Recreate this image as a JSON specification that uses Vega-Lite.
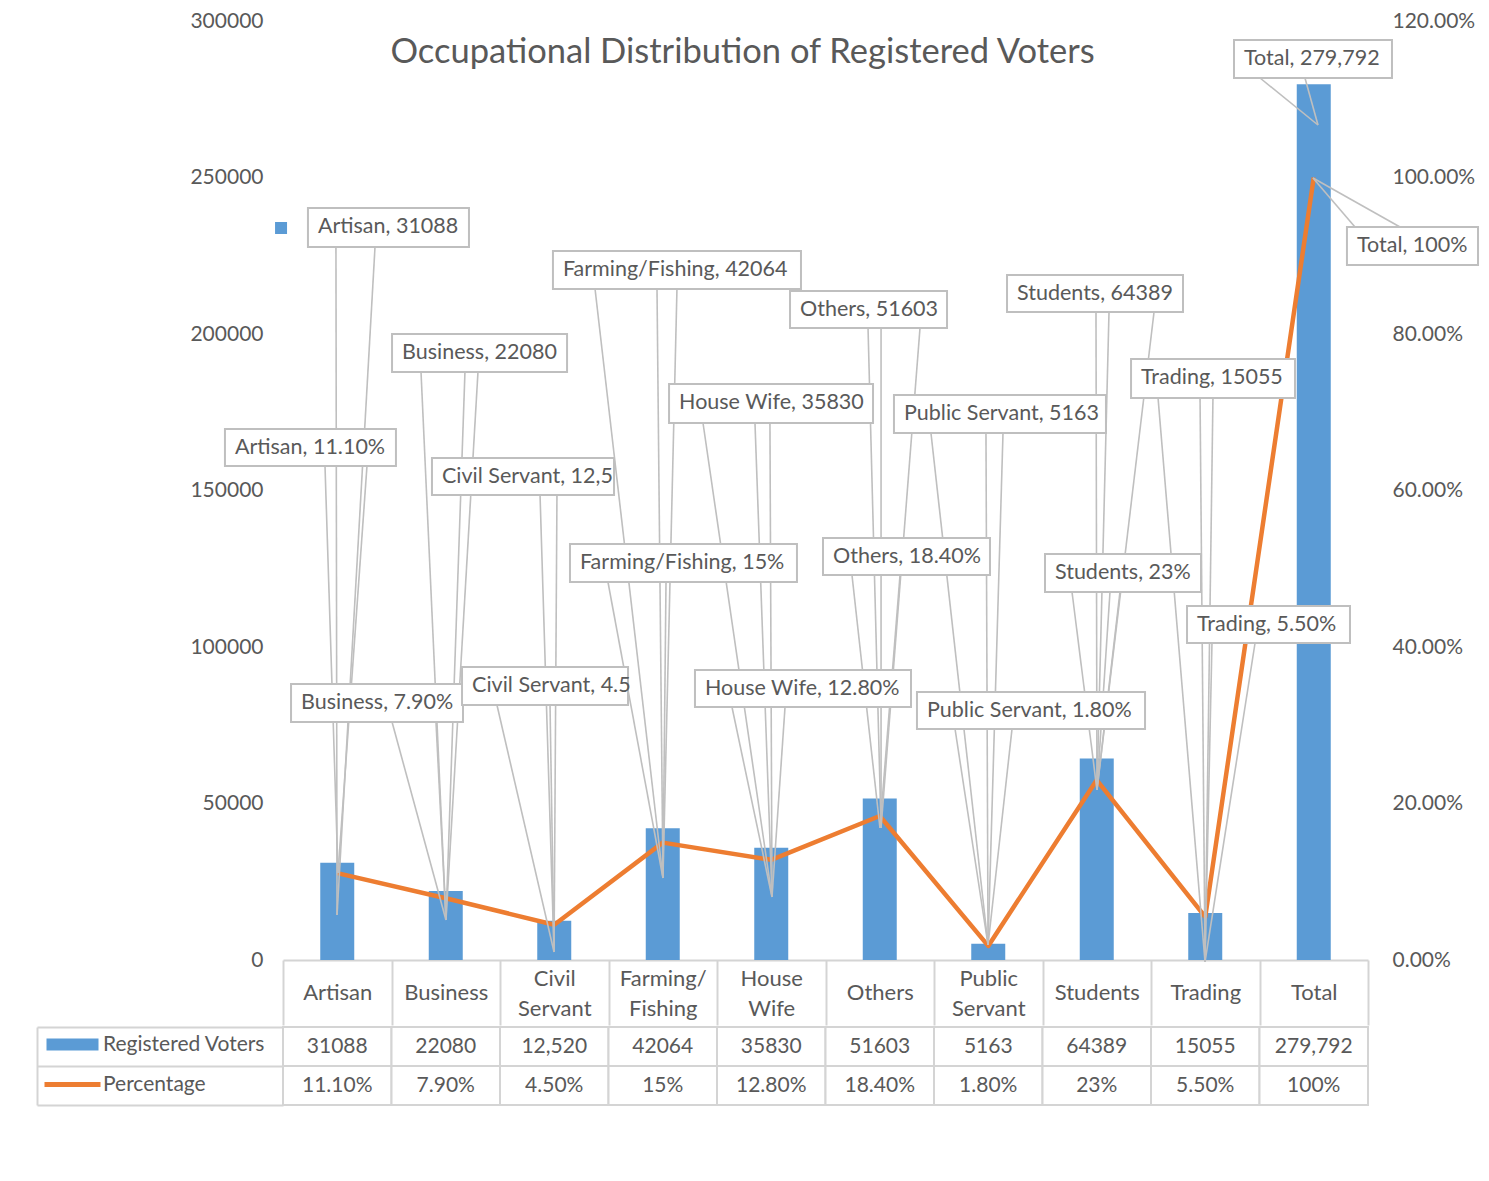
{
  "$schema": "https://vega.github.io/schema/vega-lite/v6.json",
  "background": "white",
  "padding": {"left": 36, "top": 10, "right": 10, "bottom": 10},
  "title": {"text": "Occupational Distribution of Registered Voters", "fontSize": 34.5, "font": "Lato", "fontWeight": "normal", "color": "#595959", "anchor": "middle", "baseline": "middle", "offset": -77, "dx": -15},
  "spacing": 0,
  "datasets": {
    "main": [
      {"Occupation": "Artisan", "Voters": 31088, "Percentage": 0.111},
      {"Occupation": "Business", "Voters": 22080, "Percentage": 0.079},
      {"Occupation": "Civil Servant", "Voters": 12520, "Percentage": 0.045},
      {"Occupation": "Farming/Fishing", "Voters": 42064, "Percentage": 0.15},
      {"Occupation": "House Wife", "Voters": 35830, "Percentage": 0.128},
      {"Occupation": "Others", "Voters": 51603, "Percentage": 0.184},
      {"Occupation": "Public Servant", "Voters": 5163, "Percentage": 0.018},
      {"Occupation": "Students", "Voters": 64389, "Percentage": 0.23},
      {"Occupation": "Trading", "Voters": 15055, "Percentage": 0.055},
      {"Occupation": "Total", "Voters": 279792, "Percentage": 1.0}
    ],
    "table": [
      {"Occupation": "Artisan", "Series": "Registered Voters", "Display": "31088"},
      {"Occupation": "Business", "Series": "Registered Voters", "Display": "22080"},
      {"Occupation": "Civil Servant", "Series": "Registered Voters", "Display": "12,520"},
      {"Occupation": "Farming/Fishing", "Series": "Registered Voters", "Display": "42064"},
      {"Occupation": "House Wife", "Series": "Registered Voters", "Display": "35830"},
      {"Occupation": "Others", "Series": "Registered Voters", "Display": "51603"},
      {"Occupation": "Public Servant", "Series": "Registered Voters", "Display": "5163"},
      {"Occupation": "Students", "Series": "Registered Voters", "Display": "64389"},
      {"Occupation": "Trading", "Series": "Registered Voters", "Display": "15055"},
      {"Occupation": "Total", "Series": "Registered Voters", "Display": "279,792"},
      {"Occupation": "Artisan", "Series": "Percentage", "Display": "11.10%"},
      {"Occupation": "Business", "Series": "Percentage", "Display": "7.90%"},
      {"Occupation": "Civil Servant", "Series": "Percentage", "Display": "4.50%"},
      {"Occupation": "Farming/Fishing", "Series": "Percentage", "Display": "15%"},
      {"Occupation": "House Wife", "Series": "Percentage", "Display": "12.80%"},
      {"Occupation": "Others", "Series": "Percentage", "Display": "18.40%"},
      {"Occupation": "Public Servant", "Series": "Percentage", "Display": "1.80%"},
      {"Occupation": "Students", "Series": "Percentage", "Display": "23%"},
      {"Occupation": "Trading", "Series": "Percentage", "Display": "5.50%"},
      {"Occupation": "Total", "Series": "Percentage", "Display": "100%"}
    ],
    "callouts": [
      {"label": "Artisan, 31088", "x1": 0.230, "x2": 1.714, "yTop": 240256, "yBottom": 227796},
      {"label": "Artisan, 11.10%", "x1": -0.535, "x2": 1.041, "yTop": 169649, "yBottom": 157828},
      {"label": "Business, 22080", "x1": 1.005, "x2": 2.618, "yTop": 200001, "yBottom": 187860},
      {"label": "Business, 7.90%", "x1": 0.074, "x2": 1.659, "yTop": 88179, "yBottom": 76039},
      {"label": "Civil Servant, 12,5", "x1": 1.373, "x2": 3.051, "yTop": 160384, "yBottom": 148563},
      {"label": "Civil Servant, 4.5", "x1": 1.650, "x2": 3.180, "yTop": 93611, "yBottom": 81470},
      {"label": "Farming/Fishing, 42064", "x1": 2.488, "x2": 4.774, "yTop": 226518, "yBottom": 214378},
      {"label": "Farming/Fishing, 15%", "x1": 2.645, "x2": 4.737, "yTop": 132908, "yBottom": 120767},
      {"label": "House Wife, 35830", "x1": 3.558, "x2": 5.438, "yTop": 184026, "yBottom": 171566},
      {"label": "House Wife, 12.80%", "x1": 3.797, "x2": 5.788, "yTop": 92652, "yBottom": 80831},
      {"label": "Others, 51603", "x1": 4.673, "x2": 6.120, "yTop": 213739, "yBottom": 201918},
      {"label": "Others, 18.40%", "x1": 4.977, "x2": 6.516, "yTop": 134825, "yBottom": 123004},
      {"label": "Public Servant, 5163", "x1": 5.631, "x2": 7.585, "yTop": 180512, "yBottom": 168371},
      {"label": "Public Servant, 1.80%", "x1": 5.843, "x2": 7.945, "yTop": 85623, "yBottom": 73802},
      {"label": "Students, 64389", "x1": 6.673, "x2": 8.295, "yTop": 218851, "yBottom": 207030},
      {"label": "Students, 23%", "x1": 7.023, "x2": 8.461, "yTop": 129713, "yBottom": 117572},
      {"label": "Trading, 15055", "x1": 7.816, "x2": 9.327, "yTop": 192013, "yBottom": 179553},
      {"label": "Trading, 5.50%", "x1": 8.332, "x2": 9.834, "yTop": 113100, "yBottom": 101278},
      {"label": "Total, 279,792", "x1": 8.765, "x2": 10.221, "yTop": 293931, "yBottom": 281790},
      {"label": "Total, 100%", "x1": 9.806, "x2": 11.014, "yTop": 234186, "yBottom": 222046}
    ],
    "leaders": [
      {"x": 0.488, "y": 227796, "tipX": 0.498, "tipY": 14377},
      {"x": 0.848, "y": 227796, "tipX": 0.498, "tipY": 14377},
      {"x": 0.387, "y": 157828, "tipX": 0.507, "tipY": 27796},
      {"x": 0.774, "y": 157828, "tipX": 0.507, "tipY": 27796},
      {"x": 1.272, "y": 187860, "tipX": 1.502, "tipY": 12780},
      {"x": 1.677, "y": 187860, "tipX": 1.502, "tipY": 12780},
      {"x": 1.797, "y": 187860, "tipX": 1.502, "tipY": 12780},
      {"x": 1.005, "y": 76039, "tipX": 1.502, "tipY": 12780},
      {"x": 1.410, "y": 76039, "tipX": 1.502, "tipY": 12780},
      {"x": 2.369, "y": 148563, "tipX": 2.498, "tipY": 2556},
      {"x": 2.525, "y": 148563, "tipX": 2.498, "tipY": 2556},
      {"x": 1.972, "y": 81470, "tipX": 2.498, "tipY": 2556},
      {"x": 2.461, "y": 81470, "tipX": 2.498, "tipY": 2556},
      {"x": 2.876, "y": 214378, "tipX": 3.502, "tipY": 26198},
      {"x": 3.447, "y": 214378, "tipX": 3.502, "tipY": 26198},
      {"x": 3.631, "y": 214378, "tipX": 3.502, "tipY": 26198},
      {"x": 2.995, "y": 120767, "tipX": 3.502, "tipY": 26198},
      {"x": 3.530, "y": 120767, "tipX": 3.502, "tipY": 26198},
      {"x": 3.871, "y": 171566, "tipX": 4.507, "tipY": 20128},
      {"x": 4.350, "y": 171566, "tipX": 4.507, "tipY": 20128},
      {"x": 4.488, "y": 171566, "tipX": 4.507, "tipY": 20128},
      {"x": 4.138, "y": 80831, "tipX": 4.507, "tipY": 20128},
      {"x": 4.627, "y": 80831, "tipX": 4.507, "tipY": 20128},
      {"x": 5.392, "y": 201918, "tipX": 5.512, "tipY": 42173},
      {"x": 5.512, "y": 201918, "tipX": 5.512, "tipY": 42173},
      {"x": 5.871, "y": 201918, "tipX": 5.512, "tipY": 42173},
      {"x": 5.244, "y": 123004, "tipX": 5.502, "tipY": 42173},
      {"x": 5.687, "y": 123004, "tipX": 5.502, "tipY": 42173},
      {"x": 5.972, "y": 168371, "tipX": 6.498, "tipY": 4792},
      {"x": 6.479, "y": 168371, "tipX": 6.498, "tipY": 4792},
      {"x": 6.636, "y": 168371, "tipX": 6.498, "tipY": 4792},
      {"x": 6.194, "y": 73802, "tipX": 6.498, "tipY": 4792},
      {"x": 6.719, "y": 73802, "tipX": 6.498, "tipY": 4792},
      {"x": 7.493, "y": 207030, "tipX": 7.502, "tipY": 54313},
      {"x": 7.613, "y": 207030, "tipX": 7.502, "tipY": 54313},
      {"x": 8.028, "y": 207030, "tipX": 7.502, "tipY": 54313},
      {"x": 7.272, "y": 117572, "tipX": 7.502, "tipY": 54313},
      {"x": 7.622, "y": 117572, "tipX": 7.502, "tipY": 54313},
      {"x": 7.714, "y": 117572, "tipX": 7.502, "tipY": 54313},
      {"x": 8.065, "y": 179553, "tipX": 8.498, "tipY": -600},
      {"x": 8.452, "y": 179553, "tipX": 8.498, "tipY": -600},
      {"x": 8.571, "y": 179553, "tipX": 8.498, "tipY": -600},
      {"x": 8.562, "y": 101278, "tipX": 8.498, "tipY": -600},
      {"x": 8.959, "y": 101278, "tipX": 8.498, "tipY": -600},
      {"x": 9.005, "y": 281790, "tipX": 9.539, "tipY": 266774},
      {"x": 9.419, "y": 281790, "tipX": 9.539, "tipY": 266774},
      {"x": 9.880, "y": 234186, "tipX": 9.493, "tipY": 249841},
      {"x": 10.295, "y": 234186, "tipX": 9.493, "tipY": 249841}
    ]
  },
  "vconcat": [
    {
      "width": 1085,
      "height": 939,
      "layer": [
        {
          "data": {"name": "main"},
          "mark": {"type": "bar", "color": "#5B9BD5", "size": 34},
          "encoding": {
            "x": {"field": "Occupation", "type": "nominal", "sort": null,
              "scale": {"type": "band", "paddingInner": 0, "paddingOuter": 0},
              "axis": {"title": null, "orient": "bottom", "domain": true, "domainColor": "#D4D4D4", "domainWidth": 2,
                "ticks": true, "tickBand": "extent", "tickSize": 65, "tickColor": "#D4D4D4", "tickWidth": 2,
                "labelAngle": 0, "labelExpr": "split(replace(datum.label, '/', '/ '), ' ')",
                "labelPadding": {"condition": {"test": "length(split(replace(datum.label, '/', '/ '), ' ')) > 1", "value": -47}, "value": -33},
                "labelBaseline": "middle", "labelLineHeight": 30,
                "labelFontSize": 22, "labelColor": "#595959", "labelFont": "Lato", "labelOverlap": false}},
            "y": {"field": "Voters", "type": "quantitative",
              "scale": {"domain": [0, 300000], "nice": false},
              "axis": {"title": null, "orient": "left", "values": [0, 50000, 100000, 150000, 200000, 250000, 300000], "format": "d",
                "domain": false, "ticks": false, "grid": false, "labelPadding": 20,
                "labelFontSize": 21, "labelColor": "#595959", "labelFont": "Lato"}}
          }
        },
        {
          "data": {"name": "main"},
          "mark": {"type": "line", "color": "#ED7D31", "strokeWidth": 4.5, "strokeJoin": "round"},
          "encoding": {
            "x": {"field": "Occupation", "type": "nominal", "sort": null, "scale": {"type": "point", "padding": 0.5}, "axis": null},
            "y": {"field": "Percentage", "type": "quantitative",
              "scale": {"domain": [0, 1.2], "nice": false},
              "axis": {"title": null, "orient": "right", "values": [0, 0.2, 0.4, 0.6, 0.8, 1, 1.2], "format": ".2%",
                "domain": false, "ticks": false, "grid": false, "labelPadding": 24,
                "labelFontSize": 21, "labelColor": "#595959", "labelFont": "Lato"}}
          }
        },
        {
          "data": {"name": "leaders"},
          "mark": {"type": "rule", "color": "#BFBFBF", "strokeWidth": 1.6},
          "encoding": {
            "x": {"field": "x", "type": "quantitative", "scale": {"domain": [0, 10], "nice": false, "zero": false}, "axis": null},
            "x2": {"field": "tipX"},
            "y": {"field": "y", "type": "quantitative", "scale": {"domain": [0, 300000], "nice": false, "zero": false}, "axis": null},
            "y2": {"field": "tipY"}
          }
        },
        {
          "data": {"name": "callouts"},
          "mark": {"type": "rect", "fill": "white", "stroke": "#BFBFBF", "strokeWidth": 2},
          "encoding": {
            "x": {"field": "x1", "type": "quantitative", "scale": {"domain": [0, 10], "nice": false, "zero": false}, "axis": null},
            "x2": {"field": "x2"},
            "y": {"field": "yTop", "type": "quantitative", "scale": {"domain": [0, 300000], "nice": false, "zero": false}, "axis": null},
            "y2": {"field": "yBottom"}
          }
        },
        {
          "data": {"name": "callouts"},
          "mark": {"type": "text", "align": "left", "baseline": "middle", "dx": 10, "dy": 19, "fontSize": 21.5, "font": "Lato", "color": "#595959"},
          "encoding": {
            "x": {"field": "x1", "type": "quantitative", "scale": {"domain": [0, 10], "nice": false, "zero": false}, "axis": null},
            "y": {"field": "yTop", "type": "quantitative", "scale": {"domain": [0, 300000], "nice": false, "zero": false}, "axis": null},
            "text": {"field": "label"}
          }
        },
        {
          "data": {"values": [{"x": -0.018, "y": 233867}]},
          "mark": {"type": "square", "color": "#5B9BD5", "opacity": 1, "size": 144},
          "encoding": {
            "x": {"field": "x", "type": "quantitative", "scale": {"domain": [0, 10], "nice": false, "zero": false}, "axis": null},
            "y": {"field": "y", "type": "quantitative", "scale": {"domain": [0, 300000], "nice": false, "zero": false}, "axis": null}
          }
        }
      ],
      "resolve": {"scale": {"x": "independent", "y": "independent"}}
    },
    {
      "width": 1085,
      "height": 78,
      "layer": [
        {
          "data": {"name": "table"},
          "mark": {"type": "rect", "fill": "white", "stroke": "#D4D4D4", "strokeWidth": 2},
          "encoding": {
            "x": {"field": "Occupation", "type": "nominal", "sort": null, "scale": {"paddingInner": 0, "paddingOuter": 0}, "axis": null},
            "y": {"field": "Series", "type": "nominal", "sort": ["Registered Voters", "Percentage"],
              "scale": {"paddingInner": 0, "paddingOuter": 0},
              "axis": {"title": null, "orient": "left", "offset": 246, "domain": true, "domainColor": "#D4D4D4", "domainWidth": 2,
                "ticks": true, "tickBand": "extent", "tickSize": -246, "tickColor": "#D4D4D4", "tickWidth": 2, "labels": false, "grid": false}}
          }
        },
        {
          "data": {"name": "table"},
          "mark": {"type": "text", "fontSize": 21, "font": "Lato", "color": "#595959", "baseline": "middle"},
          "encoding": {
            "x": {"field": "Occupation", "type": "nominal", "sort": null},
            "y": {"field": "Series", "type": "nominal", "sort": ["Registered Voters", "Percentage"]},
            "text": {"field": "Display"}
          }
        },
        {
          "data": {"values": [{"Series": "Registered Voters"}, {"Series": "Percentage"}]},
          "mark": {"type": "square", "opacity": 0},
          "encoding": {
            "y": {"field": "Series", "type": "nominal", "sort": ["Registered Voters", "Percentage"]},
            "color": {"field": "Series", "type": "nominal",
              "scale": {"domain": ["Registered Voters", "Percentage"], "range": ["#5B9BD5", "#ED7D31"]},
              "legend": {"orient": "none", "legendX": -221, "legendY": 1013, "title": null, "direction": "vertical",
                "labelFontSize": 21, "labelColor": "#595959", "labelFont": "Lato", "labelOffset": 20, "labelLimit": 300,
                "symbolSize": 4, "symbolOpacity": 1, "symbolStrokeWidth": 0, "rowPadding": 18, "padding": 0,
                "encode": {"symbols": {"update": {"opacity": {"value": 1},
                  "shape": {"signal": "datum.value === 'Percentage' ? 'M-28,-2.5H28V2.5H-28Z' : 'M-26,-6H26V6H-26Z'"}}}}}}
          }
        }
      ]
    }
  ],
  "config": {
    "view": {"stroke": null},
    "font": "Lato",
    "axis": {"labelFont": "Lato"},
    "legend": {"labelFont": "Lato"}
  }
}
